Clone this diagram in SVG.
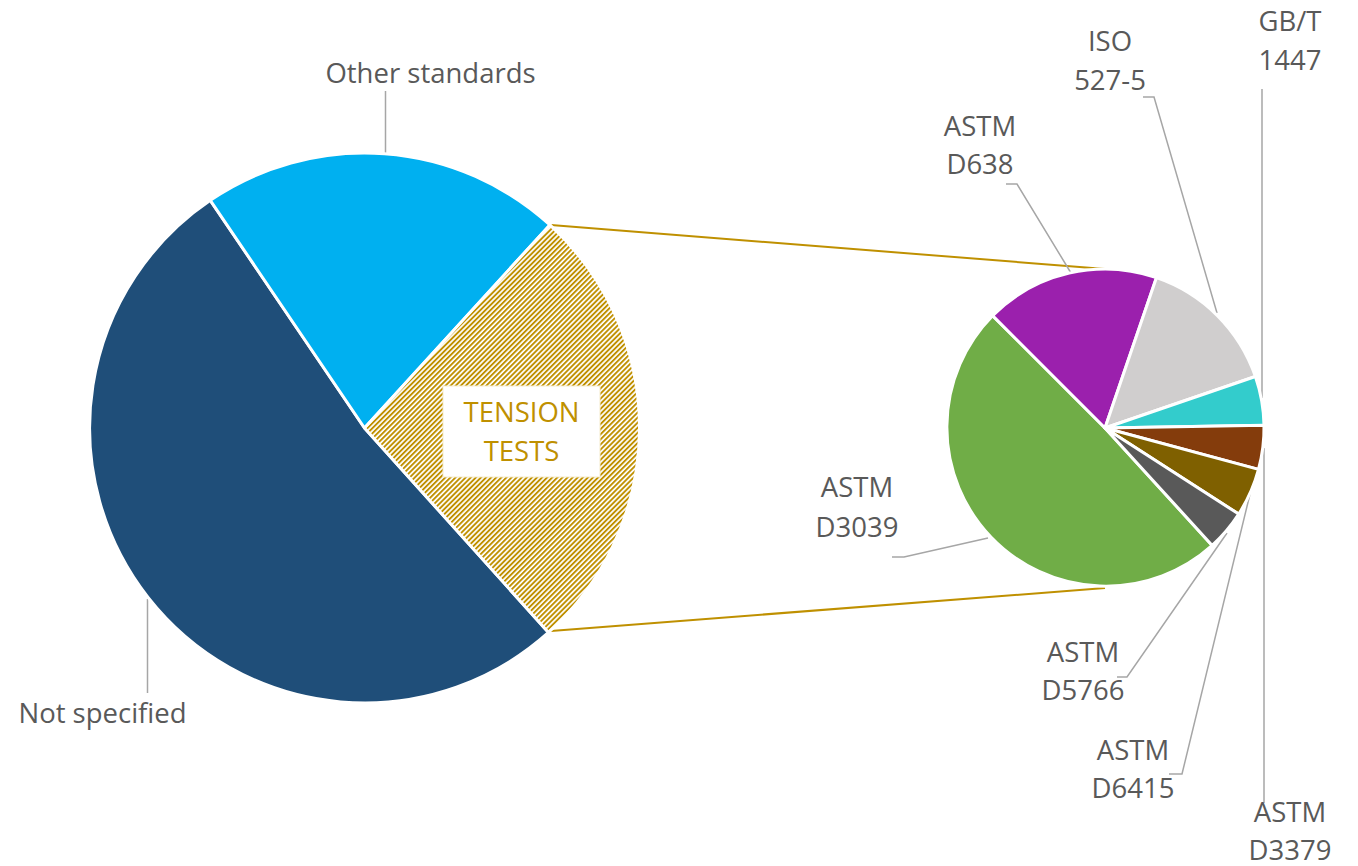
<svg xmlns="http://www.w3.org/2000/svg" width="1358" height="866" viewBox="0 0 1358 866">
<style>
.lbl{font-family:"Open Sans","Noto Sans","Liberation Sans",sans-serif;font-size:27.5px;fill:#595959;text-anchor:middle}
.sl{stroke:#FFFFFF;stroke-width:3;stroke-linejoin:round}
.ld{fill:none;stroke:#A6A6A6;stroke-width:1.5}
.gold{fill:none;stroke:#BF9000;stroke-width:2}
</style>
<defs>
<pattern id="hatch" patternUnits="userSpaceOnUse" width="3.6" height="3.6" patternTransform="rotate(45)">
<rect x="0" y="0" width="3.6" height="3.6" fill="#FFFFFF"/>
<rect x="0" y="0" width="1.9" height="3.6" fill="#BF9000"/>
</pattern>
</defs>
<rect width="1358" height="866" fill="#FFFFFF"/>
<g id="connectors">
<line class="gold" x1="551" y1="225" x2="1105" y2="269"/>
<line class="gold" x1="551" y1="631" x2="1105" y2="588"/>
<path class="ld" d="M385.5,91 V153"/>
<path class="ld" d="M147.5,599 V693"/>
<path class="ld" d="M1006,184 H1017 L1071,273"/>
<path class="ld" d="M1143,97 H1154 L1217,313"/>
<path class="ld" d="M1262,89 V398"/>
<path class="ld" d="M892,557 H904 L988,538"/>
<path class="ld" d="M1117,677 H1127 L1227,533"/>
<path class="ld" d="M1169,774 H1182 L1250,494"/>
<path class="ld" d="M1264,448 V803"/>
</g>
<g id="big-pie">
<g id="not-specified">
<path class="sl" fill="#1F4E79" d="M364.5,428 L548.5,632.4 A275,275 0 1 1 210.3,200.3 Z"/>
<text class="lbl" x="102.5" y="723">Not specified</text>
</g>
<g id="other-standards">
<path class="sl" fill="#00B0F0" d="M364.5,428 L210.3,200.3 A275,275 0 0 1 549.9,224.9 Z"/>
<text class="lbl" x="430.5" y="83">Other standards</text>
</g>
<g id="tension-tests">
<path class="sl" fill="url(#hatch)" d="M364.5,428 L549.9,224.9 A275,275 0 0 1 548.5,632.4 Z"/>
<rect x="443" y="386" width="157" height="91" fill="#FFFFFF" stroke="#F5EBCB" stroke-width="1"/>
<text class="lbl" style="fill:#BF9000" x="521.5" y="422">TENSION</text>
<text class="lbl" style="fill:#BF9000" x="521.5" y="461">TESTS</text>
</g>
</g>
<g id="small-pie">
<g id="astm-d3039">
<path class="sl" fill="#70AD47" d="M1105,428 L1212.2,545.4 A159,159 0 0 1 992.6,315.6 Z"/>
<text class="lbl" x="857" y="497">ASTM</text>
<text class="lbl" x="857" y="537">D3039</text>
</g>
<g id="astm-d638">
<path class="sl" fill="#9B20AD" d="M1105,428 L992.6,315.6 A159,159 0 0 1 1156.5,277.6 Z"/>
<text class="lbl" x="980" y="136">ASTM</text>
<text class="lbl" x="980" y="174">D638</text>
</g>
<g id="iso-527-5">
<path class="sl" fill="#D0CECE" d="M1105,428 L1156.5,277.6 A159,159 0 0 1 1255.4,376.5 Z"/>
<text class="lbl" x="1110" y="51">ISO</text>
<text class="lbl" x="1110" y="90">527-5</text>
</g>
<g id="gbt-1447">
<path class="sl" fill="#33CCCC" d="M1105,428 L1255.4,376.5 A159,159 0 0 1 1264,425.2 Z"/>
<text class="lbl" x="1290" y="31">GB/T</text>
<text class="lbl" x="1290" y="70">1447</text>
</g>
<g id="astm-d3379">
<path class="sl" fill="#843C0C" d="M1105,428 L1264,425.2 A159,159 0 0 1 1258.5,469.4 Z"/>
<text class="lbl" x="1290" y="822">ASTM</text>
<text class="lbl" x="1290" y="860">D3379</text>
</g>
<g id="astm-d6415">
<path class="sl" fill="#7F6000" d="M1105,428 L1258.5,469.4 A159,159 0 0 1 1238.7,514.1 Z"/>
<text class="lbl" x="1133" y="760">ASTM</text>
<text class="lbl" x="1133" y="798">D6415</text>
</g>
<g id="astm-d5766">
<path class="sl" fill="#595959" d="M1105,428 L1238.7,514.1 A159,159 0 0 1 1212.2,545.4 Z"/>
<text class="lbl" x="1083" y="662">ASTM</text>
<text class="lbl" x="1083" y="700">D5766</text>
</g>
</g>
</svg>
